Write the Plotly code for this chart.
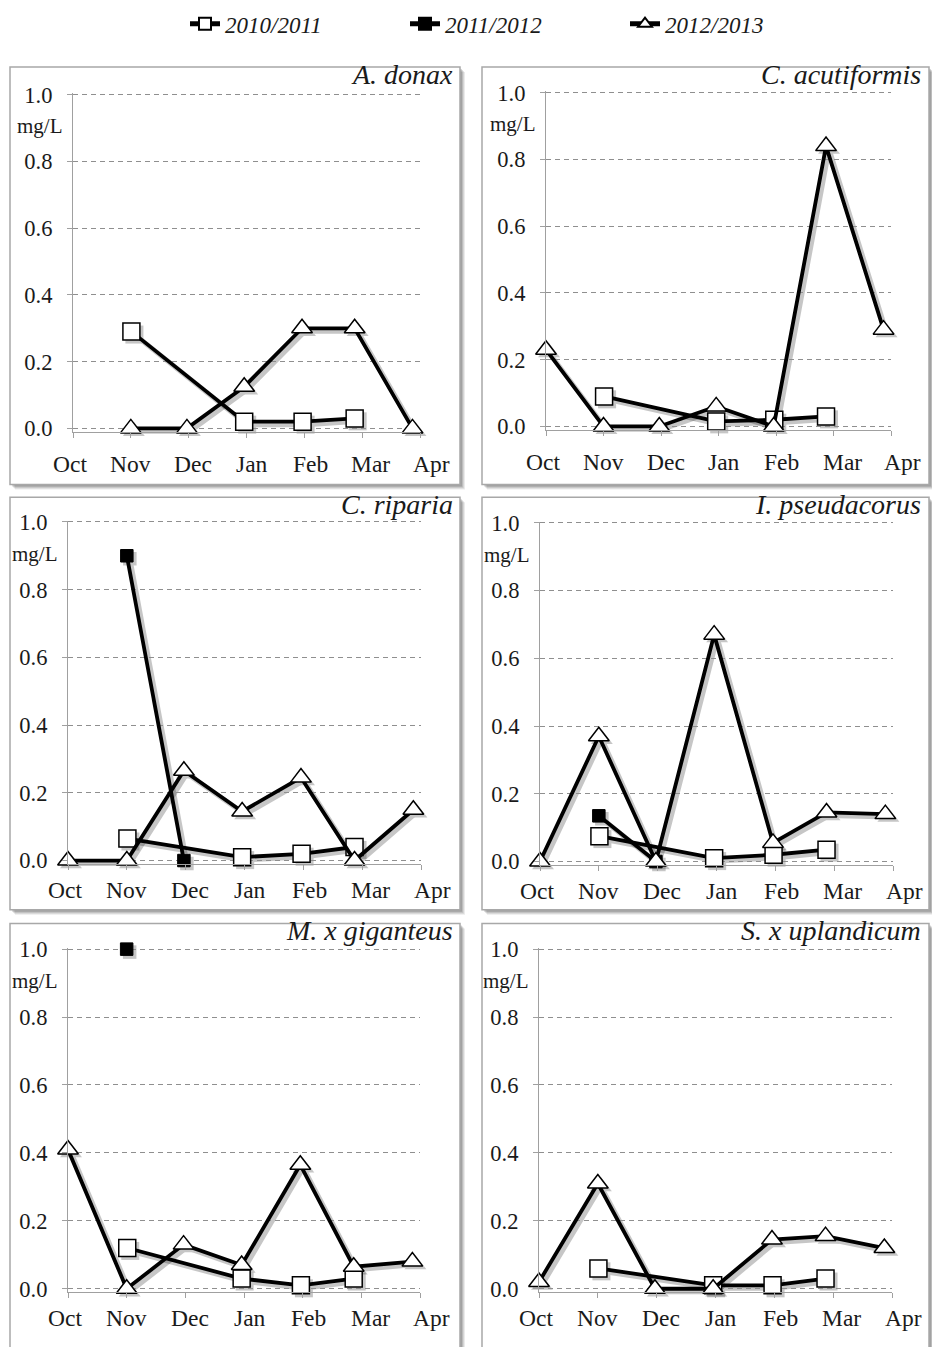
import plotly.graph_objects as go

FIG_W, FIG_H = 932, 1347

# ---- axis labels -------------------------------------------------------
MONTHS = ["Oct", "Nov", "Dec", "Jan", "Feb", "Mar", "Apr"]
MONTH_TICKS = [0, 1, 2, 3, 4, 5, 6]
MONTH_LABEL_POS = [-0.05, 1.0, 2.08, 3.1, 4.1, 5.15, 6.2]
Y_TICKS = [0.0, 0.2, 0.4, 0.6, 0.8, 1.0]
Y_TICK_TEXT = ["0.0", "0.2", "0.4", "0.6", "0.8", "1.0"]
UNIT = "mg/L"

SEASONS = ["2010/2011", "2011/2012", "2012/2013"]
SPECIES = ["A. donax", "C. acutiformis", "C. riparia",
           "I. pseudacorus", "M. x giganteus", "S. x uplandicum"]

# ---- sampling positions (months after 1 October) -----------------------
X_2010 = [1.01, 2.96, 3.97, 4.87]
X_2011 = [1.0, 1.97]
X_2012 = [0.0, 1.0, 1.97, 2.96, 3.96, 4.87, 5.87]

# ---- concentrations, mg/L ----------------------------------------------
DONAX_2010 = [0.29, 0.02, 0.02, 0.03]
DONAX_2011 = None
DONAX_2012 = [None, 0.0, 0.0, 0.125, 0.30, 0.30, 0.0]

ACUTI_2010 = [0.09, 0.015, 0.02, 0.03]
ACUTI_2011 = None
ACUTI_2012 = [0.23, 0.0, 0.0, 0.06, 0.0, 0.84, 0.29]

RIPARIA_2010 = [0.065, 0.01, 0.02, 0.04]
RIPARIA_2011 = [0.90, 0.0]
RIPARIA_2012 = [0.0, 0.0, 0.265, 0.145, 0.245, 0.0, 0.15]

PSEUD_2010 = [0.075, 0.01, 0.02, 0.035]
PSEUD_2011 = [0.135, 0.0]
PSEUD_2012 = [0.0, 0.37, 0.0, 0.67, 0.055, 0.145, 0.14]

GIGAN_2010 = [0.12, 0.03, 0.01, 0.03]
GIGAN_2011 = [1.0, None]
GIGAN_2012 = [0.41, 0.0, 0.13, 0.07, 0.365, 0.065, 0.08]

UPLAN_2010 = [0.06, 0.01, 0.01, 0.03]
UPLAN_2011 = None
UPLAN_2012 = [0.02, 0.31, 0.0, 0.0, 0.145, 0.155, 0.12]

SERIES = [
    (DONAX_2010, DONAX_2011, DONAX_2012),
    (ACUTI_2010, ACUTI_2011, ACUTI_2012),
    (RIPARIA_2010, RIPARIA_2011, RIPARIA_2012),
    (PSEUD_2010, PSEUD_2011, PSEUD_2012),
    (GIGAN_2010, GIGAN_2011, GIGAN_2012),
    (UPLAN_2010, UPLAN_2011, UPLAN_2012),
]
SEASON_X = [X_2010, X_2011, X_2012]

# ---- page geometry (pixels) --------------------------------------------
# plot rectangles: left, right, top (value 1.0), bottom (value 0.0)
PLOT_RECTS = [
    (73, 420, 85, 424),
    (546, 891, 83, 422),
    (68, 421, 519, 863),
    (540, 893, 520, 864),
    (68, 420, 953, 1298),
    (539, 892, 953, 1298),
]
BOX_COLS = [(10, 460), (482, 929)]
BOX_ROWS = [(57, 481), (494, 913), (927, 1362)]
TITLE_RIGHT = [455, 923]
TITLE_Y = [64, 501, 934]
LABEL_DROP = [36, 29, 29]
X_MAX = 6
Y_LO, Y_HI = -0.01, 1.004
SHADOW_DX, SHADOW_DY = 3, 3

SERIF = "Liberation Serif"
INK = "#1a1a1a"
AXIS_GREY = "#a0a0a0"
GRID_GREY = "#8f8f8f"

MARKERS = [
    dict(symbol="square", size=17, color="white", line=dict(color="black", width=1.5)),
    dict(symbol="square", size=12.5, color="black", line=dict(color="black", width=1)),
    dict(symbol="triangle-up", size=18, color="white", line=dict(color="black", width=1.5)),
]


def px_x(v):
    return v / FIG_W


def px_y(v):
    return 1 - v / FIG_H


def axis_names(k):
    s = "" if k == 1 else str(k)
    return "xaxis" + s, "yaxis" + s, "x" + s, "y" + s


fig = go.Figure()
layout = dict(
    width=FIG_W, height=FIG_H,
    margin=dict(l=0, r=0, t=0, b=0),
    paper_bgcolor="white", plot_bgcolor="rgba(0,0,0,0)",
    font=dict(family=SERIF, color=INK),
    shapes=[], annotations=[],
)

n_panels = len(SPECIES)

for i, name in enumerate(SPECIES):
    row, col = divmod(i, 2)
    left, right, top, bottom = PLOT_RECTS[i]
    span = bottom - top
    dom_bottom = bottom - Y_LO * span
    dom_top = top - (Y_HI - 1.0) * span

    # soft shadow layer: same scales, nudged down and to the right
    sxa, sya, sx, sy = axis_names(i + 1)
    layout[sxa] = dict(
        domain=[px_x(left + SHADOW_DX), px_x(right + SHADOW_DX)], range=[0, X_MAX],
        anchor=sy, visible=False, fixedrange=True,
    )
    layout[sya] = dict(
        domain=[px_y(dom_bottom + SHADOW_DY), px_y(dom_top + SHADOW_DY)],
        range=[Y_LO, Y_HI], anchor=sx, visible=False, fixedrange=True,
    )

    # main axes
    xa, ya, xr, yr = axis_names(i + 1 + n_panels)
    layout[xa] = dict(
        domain=[px_x(left), px_x(right)], range=[0, X_MAX], anchor=yr,
        tickvals=MONTH_TICKS, showticklabels=False,
        ticks="outside", ticklen=5, tickcolor=AXIS_GREY,
        showline=True, linecolor=AXIS_GREY, linewidth=1.2,
        showgrid=False, zeroline=False, fixedrange=True,
    )
    layout[ya] = dict(
        domain=[px_y(dom_bottom), px_y(dom_top)], range=[Y_LO, Y_HI], anchor=xr,
        tickvals=Y_TICKS, ticktext=Y_TICK_TEXT,
        tickfont=dict(family=SERIF, size=22.5, color=INK),
        ticks="outside", ticklen=5, tickcolor=AXIS_GREY, ticklabelstandoff=10,
        showline=True, linecolor=AXIS_GREY, linewidth=1.2,
        showgrid=True, gridcolor=GRID_GREY, gridwidth=1, griddash="5px,4px",
        zeroline=False, fixedrange=True,
    )

    # panel frame with a soft drop shadow
    bx0, bx1 = BOX_COLS[col]
    by0, by1 = BOX_ROWS[row]
    for k, alpha in enumerate([0.10, 0.12, 0.16, 0.20]):
        off = 5 - k
        layout["shapes"].append(dict(
            type="rect", xref="paper", yref="paper", layer="below",
            x0=px_x(bx0 + off), x1=px_x(bx1 + off), y0=px_y(by1 + off), y1=px_y(by0 + off),
            line=dict(width=0), fillcolor=f"rgba(60,60,60,{alpha})",
        ))
    layout["shapes"].append(dict(
        type="rect", xref="paper", yref="paper", layer="below",
        x0=px_x(bx0), x1=px_x(bx1), y0=px_y(by1), y1=px_y(by0),
        line=dict(color="#a8a8a8", width=1.5), fillcolor="white",
    ))

    # species name
    layout["annotations"].append(dict(
        text=name, xref="paper", yref="paper",
        x=px_x(TITLE_RIGHT[col]), y=px_y(TITLE_Y[row]),
        xanchor="right", yanchor="middle", showarrow=False,
        font=dict(family=SERIF, size=28, style="italic", color=INK),
    ))
    # unit label
    layout["annotations"].append(dict(
        text=UNIT, xref=f"{xr} domain", yref=yr, x=0, y=0.905,
        xshift=-33, xanchor="center", yanchor="middle", showarrow=False,
        font=dict(family=SERIF, size=21, color=INK),
    ))
    # month labels (on the axis scale, may sit just past the ends)
    for lab, pos in zip(MONTHS, MONTH_LABEL_POS):
        layout["annotations"].append(dict(
            text=lab, xref=f"{xr} domain", yref=yr, x=pos / X_MAX, y=0,
            yshift=-LABEL_DROP[row], xanchor="center", yanchor="middle",
            showarrow=False, font=dict(family=SERIF, size=23.5, color=INK),
        ))

    for s, (season, xs, ys) in enumerate(zip(SEASONS, SEASON_X, SERIES[i])):
        if ys is None:
            continue
        # shadow
        fig.add_trace(go.Scatter(
            x=xs, y=ys, mode="lines+markers", showlegend=False, hoverinfo="skip",
            line=dict(color="black", width=5),
            marker=dict(symbol=MARKERS[s]["symbol"], size=MARKERS[s]["size"] + 1,
                        color="black", line=dict(width=0)),
            opacity=0.22, cliponaxis=False, connectgaps=False,
            xaxis=sx, yaxis=sy,
        ))
        # series
        fig.add_trace(go.Scatter(
            x=xs, y=ys, mode="lines+markers", name=season, legendgroup=season,
            showlegend=(i == 2),
            line=dict(color="black", width=3.8),
            marker=MARKERS[s], cliponaxis=False, connectgaps=False,
            xaxis=xr, yaxis=yr,
        ))

layout["legend"] = dict(
    orientation="h", x=px_x(185), y=px_y(13), xanchor="left", yanchor="middle",
    font=dict(family=SERIF, size=23, style="italic", color=INK),
    entrywidth=175, itemsizing="constant", bgcolor="rgba(0,0,0,0)",
    traceorder="normal",
)
fig.update_layout(**layout)
fig.write_html("out.html")
